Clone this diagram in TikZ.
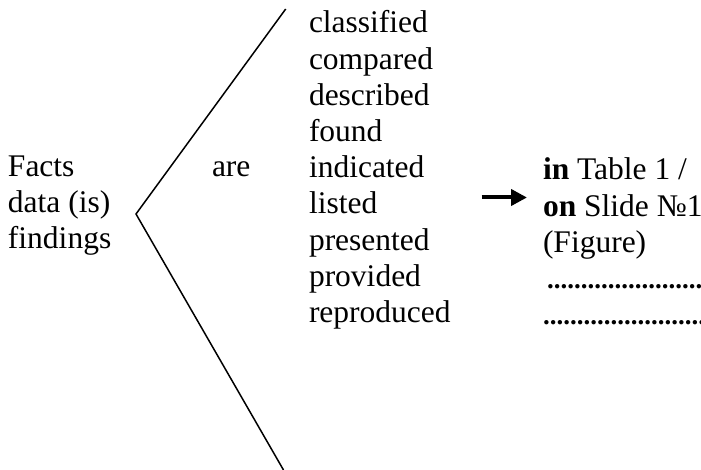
\documentclass[tikz,border=0pt]{standalone}
\usepackage{fontspec}
\setmainfont{Liberation Serif}
\usetikzlibrary{arrows.meta}
\tikzset{
  col/.style={anchor=base west, inner sep=0pt, outer sep=0pt, font=\fontsize{31.5}{36.2}\selectfont},
  bracket/.style={line width=1.5pt, line join=miter},
  bigarrow/.style={line width=4pt, -{Triangle[length=16pt,width=16pt]}}
}
\newcommand{\dotrow}[1]{{\fontsize{27}{36.2}\selectfont\bfseries\foreach \i in {1,...,#1}{.}}}
\begin{document}
\begin{tikzpicture}[x=1pt,y=-1pt]
\useasboundingbox (0,0) rectangle (701,470);
% left subject
\node[col] (subj) at (8,176.5) {\begin{tabular}[t]{@{}l@{}}Facts\\data (is)\\findings\end{tabular}};
% bracket
\coordinate (top) at (285.7,9);
\coordinate (vertex) at (136,214);
\coordinate (bottom) at (283.5,470);
\draw[bracket] (top) -- (vertex) -- (bottom);
% are
\node[col] (are) at (212,177) {are};
% verbs
\node[col] (verbs) at (309,33) {\begin{tabular}[t]{@{}l@{}}classified\\compared\\described\\found\\indicated\\listed\\presented\\provided\\reproduced\end{tabular}};
% arrow
\coordinate (arrowstart) at (481.5,197.5);
\node[col] (place) at (543,180) {\begin{tabular}[t]{@{}l@{}}\textbf{in} Table 1 /\\\textbf{on} Slide №1\\(Figure)\\\hspace{4pt}\dotrow{23}\\\dotrow{24}\end{tabular}};
\coordinate (arrowend) at (527,197.5);
\draw[bigarrow] (arrowstart) -- (arrowend);
\end{tikzpicture}
\end{document}
